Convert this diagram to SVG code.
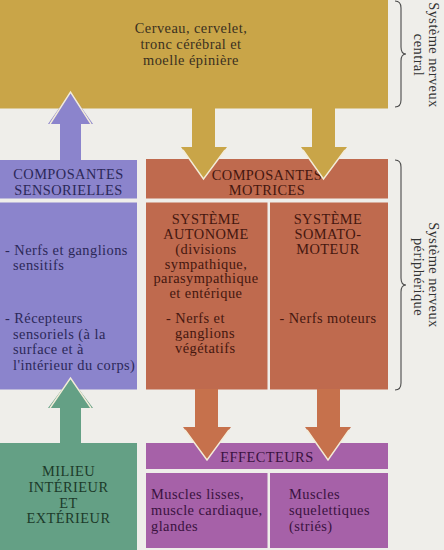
<svg xmlns="http://www.w3.org/2000/svg" width="444" height="550" viewBox="0 0 444 550">
<style>
.t{font-family:"Liberation Serif","DejaVu Serif",serif;font-size:14.4px;letter-spacing:0.45px}
.m{text-anchor:middle}
.y{fill:#c9a548}.b{fill:#8b84cc}.o{fill:#bf6a4e}.g{fill:#64a085}.p{fill:#a661a8}
.ty{fill:#3a3020}.tb{fill:#2b2858}.to{fill:#45170f}.tg{fill:#1c3a2a}.tp{fill:#3a1240}.tk{fill:#333}
.hl{fill:none;stroke:#f3ecd9;stroke-width:1.4;stroke-linejoin:miter}
.br{fill:none;stroke:#4a4a4a;stroke-width:1.1}
</style>
<rect width="444" height="550" fill="#efeeea"/>

<g id="snc">
<rect class="y" x="0" y="0" width="388" height="108.5"/>
<text class="t m ty" x="191" y="33">Cerveau, cervelet,</text>
<text class="t m ty" x="191" y="49">tronc cérébral et</text>
<text class="t m ty" x="191" y="65">moelle épinière</text>
</g>

<g id="sensorielles">
<rect class="b" x="0" y="160" width="137" height="38.5"/>
<text class="t m tb" x="68.5" y="179">COMPOSANTES</text>
<text class="t m tb" x="68.5" y="194.5">SENSORIELLES</text>
<rect class="b" x="0" y="202.5" width="137" height="187"/>
<text class="t tb" x="5" y="255">- Nerfs et ganglions</text>
<text class="t tb" x="13" y="270">sensitifs</text>
<text class="t tb" x="5" y="323">- Récepteurs</text>
<text class="t tb" x="13" y="338.5">sensoriels (à la</text>
<text class="t tb" x="13" y="354">surface et à</text>
<text class="t tb" x="13" y="369.5">l'intérieur du corps)</text>
</g>

<g id="motrices">
<rect class="o" x="146" y="159" width="242" height="39.5"/>
<text class="t m to" x="267" y="179.5">COMPOSANTES</text>
<text class="t m to" x="267" y="195">MOTRICES</text>
</g>

<g id="autonome">
<rect class="o" x="146" y="202.5" width="121.5" height="187"/>
<text class="t m to" x="206" y="224">SYSTÈME</text>
<text class="t m to" x="206" y="239">AUTONOME</text>
<text class="t m to" x="206" y="254">(divisions</text>
<text class="t m to" x="206" y="268.5">sympathique,</text>
<text class="t m to" x="206" y="283">parasympathique</text>
<text class="t m to" x="206" y="298">et entérique</text>
<text class="t to" x="166" y="323">- Nerfs et</text>
<text class="t to" x="175" y="338">ganglions</text>
<text class="t to" x="175" y="353">végétatifs</text>
</g>

<g id="somatomoteur">
<rect class="o" x="270" y="202.5" width="118" height="187"/>
<text class="t m to" x="328" y="224">SYSTÈME</text>
<text class="t m to" x="328" y="239">SOMATO-</text>
<text class="t m to" x="328" y="254">MOTEUR</text>
<text class="t m to" x="328" y="323">- Nerfs moteurs</text>
</g>

<g id="milieu">
<rect class="g" x="0" y="443" width="137" height="107"/>
<text class="t m tg" x="68.5" y="476">MILIEU</text>
<text class="t m tg" x="68.5" y="492">INTÉRIEUR</text>
<text class="t m tg" x="68.5" y="507.5">ET</text>
<text class="t m tg" x="68.5" y="523">EXTÉRIEUR</text>
</g>

<g id="effecteurs">
<rect class="p" x="146" y="443" width="242" height="26"/>
<text class="t m tp" x="267" y="462">EFFECTEURS</text>
</g>

<g id="lisses">
<rect class="p" x="146" y="473" width="121.5" height="75"/>
<text class="t tp" x="151" y="499">Muscles lisses,</text>
<text class="t tp" x="151" y="515">muscle cardiaque,</text>
<text class="t tp" x="151" y="530.5">glandes</text>
</g>

<g id="squelettiques">
<rect class="p" x="270" y="473" width="118" height="75"/>
<text class="t tp" x="289" y="499">Muscles</text>
<text class="t tp" x="289" y="515">squelettiques</text>
<text class="t tp" x="289" y="530.5">(striés)</text>
</g>

<g id="connectors">
<polygon class="b" points="60,160.5 60,124 48,124 70.5,92 93,124 81,124 81,160.5"/>
<polyline class="hl" points="50,124 70.5,92 91,124"/>
<polygon class="y" points="192,108 192,147 181,147 203.5,179 227,147 215,147 215,108"/>
<polyline class="hl" points="183,150 203.5,179 225,150"/>
<polygon class="y" points="312,108 312,147 301,147 323.5,179 347,147 335,147 335,108"/>
<polyline class="hl" points="303,150 323.5,179 345,150"/>
<polygon class="o" points="195,389 195,427 183,427 207,460 231,427 218,427 218,389" style="fill:#c6714c"/>
<polyline class="hl" points="185,430 207,460 229,430"/>
<polygon class="o" points="317,389 317,427 305,427 328,460 351,427 340,427 340,389" style="fill:#c6714c"/>
<polyline class="hl" points="307,430 328,460 349,430"/>
<polygon class="g" points="60,443.5 60,408 48,408 70.5,378 93,408 81,408 81,443.5"/>
<polyline class="hl" points="50,408 70.5,378 91,408"/>
</g>

<g id="brace-central">
<path class="br" d="M395,1 Q401,1 401,8 L401,47 Q401,54 406,54 Q401,54 401,61 L401,100 Q401,107 395,107"/>
<text class="t m tk" transform="translate(429,55) rotate(90)">Système nerveux</text>
<text class="t m tk" transform="translate(414,55) rotate(90)">central</text>
</g>

<g id="brace-peripherique">
<path class="br" d="M395,160 Q401,160 401,167 L401,278 Q401,285 406,285 Q401,285 401,292 L401,383 Q401,390 395,390"/>
<text class="t m tk" transform="translate(429,275) rotate(90)">Système nerveux</text>
<text class="t m tk" transform="translate(414,277) rotate(90)">périphérique</text>
</g>
</svg>
